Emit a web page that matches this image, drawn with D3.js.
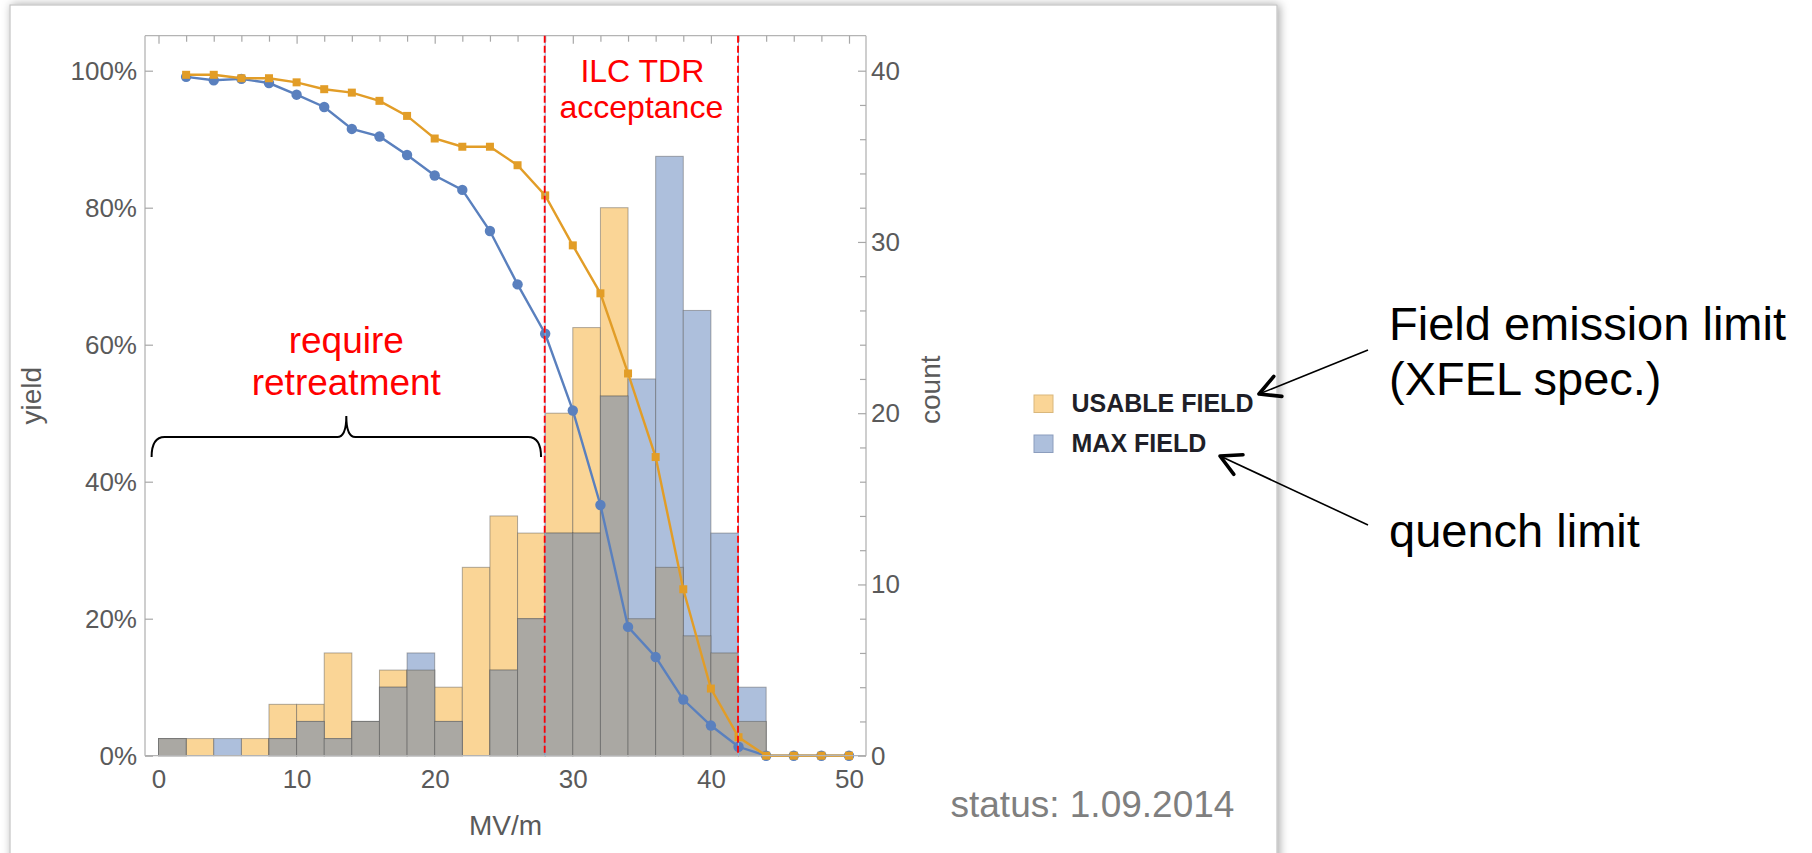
<!DOCTYPE html>
<html>
<head>
<meta charset="utf-8">
<script src="https://cdn.jsdelivr.net/npm/d3@7"></script>
<style>
  html, body { margin: 0; padding: 0; background: #fff; overflow: hidden; }
  text { font-family: "Liberation Sans", Arial, Helvetica, sans-serif; }
</style>
</head>
<body>
<svg id="chart" width="1812" height="853"></svg>
<script>
// Histogram bins (MV/m, 2 MV/m wide) and cavity counts per bin
const binStarts    = [0, 2, 4, 6, 8, 10, 12, 14, 16, 18, 20, 22, 24, 26, 28, 30, 32, 34, 36, 38, 40, 42];
const binWidth     = 2;
const usableCounts = [1, 1, 0, 1, 3, 3, 6, 2, 5, 5, 4, 11, 14, 13, 20, 25, 32, 8, 11, 7, 6, 2];
const maxCounts    = [1, 0, 1, 0, 1, 2, 1, 2, 4, 6, 2, 0, 5, 8, 13, 13, 21, 22, 35, 26, 13, 4];

// Yield curves (% of cavities reaching at least the given gradient)
const fieldPoints  = [2, 4, 6, 8, 10, 12, 14, 16, 18, 20, 22, 24, 26, 28, 30, 32, 34, 36, 38, 40, 42, 44, 46, 48, 50];
const usableYield  = [99.4, 99.4, 98.9, 98.9, 98.3, 97.3, 96.8, 95.6, 93.4, 90.1, 88.9, 88.9, 86.2, 81.8, 74.5, 67.5, 55.8, 43.6, 24.3, 9.8, 2.7, 0, 0, 0, 0];
const maxYield     = [99.1, 98.6, 98.8, 98.2, 96.5, 94.7, 91.5, 90.4, 87.7, 84.7, 82.6, 76.6, 68.8, 61.6, 50.4, 36.6, 18.8, 14.4, 8.2, 4.4, 1.3, 0, 0, 0, 0];

// Axis ticks
const fieldTicks      = [0, 10, 20, 30, 40, 50];
const fieldMinorTicks = [2, 4, 6, 8, 12, 14, 16, 18, 22, 24, 26, 28, 32, 34, 36, 38, 42, 44, 46, 48];
const yieldTicks      = [0, 20, 40, 60, 80, 100];
const countTicks      = [0, 10, 20, 30, 40];
const countMinorTicks = [2, 4, 6, 8, 12, 14, 16, 18, 22, 24, 26, 28, 32, 34, 36, 38];

// ILC TDR acceptance window
const acceptanceBounds = [28, 42];

const legendItems = [
  { label: "USABLE FIELD", key: "usable" },
  { label: "MAX FIELD",    key: "max" }
];

const colors = {
  usableBar: "#FAD596",
  maxBar: "#ADBFDC",
  overlapBar: "#AAA8A3",
  barEdge: "rgba(80,80,80,0.45)",
  usableLine: "#E29D27",
  maxLine: "#5A80BE",
  frame: "#b4b4b4",
  tickText: "#5a5a5a",
  red: "#ff0000"
};

const svg = d3.select("#chart");

// ---- page panel with soft shadow ----
const defs = svg.append("defs");
const shadow = defs.append("filter").attr("id", "panelShadow")
  .attr("x", "-3%").attr("y", "-3%").attr("width", "106%").attr("height", "106%");
shadow.append("feDropShadow").attr("dx", 2).attr("dy", 0)
  .attr("stdDeviation", 5).attr("flood-color", "#000").attr("flood-opacity", 0.35);

svg.append("rect").attr("width", 1812).attr("height", 853).attr("fill", "#fff");
svg.append("rect")
  .attr("x", 10).attr("y", 5).attr("width", 1267).attr("height", 900)
  .attr("fill", "#fff").attr("stroke", "#c4c4c4").attr("stroke-width", 1.2)
  .attr("filter", "url(#panelShadow)");

// ---- plot geometry ----
const frame = { left: 145, right: 866, top: 35.7, bottom: 755.7 };
const x = d3.scaleLinear().domain([0, 50]).range([158.5, 849]);
const yYield = d3.scaleLinear().domain([0, 100]).range([755.7, 70.7]);
const yCount = d3.scaleLinear().domain([0, 40]).range([755.7, 70.7]);

const plot = svg.append("g");

// ---- histogram bars ----
const bins = binStarts.map((s, i) => ({
  start: s, end: s + binWidth,
  usable: usableCounts[i], max: maxCounts[i],
  both: Math.min(usableCounts[i], maxCounts[i])
}));

function drawBars(key, fill) {
  plot.append("g").selectAll("rect")
    .data(bins.filter(d => d[key] > 0))
    .join("rect")
    .attr("x", d => x(d.start))
    .attr("width", d => x(d.end) - x(d.start))
    .attr("y", d => yCount(d[key]))
    .attr("height", d => yCount(0) - yCount(d[key]))
    .attr("fill", fill)
    .attr("stroke", colors.barEdge)
    .attr("stroke-width", 1);
}
drawBars("usable", colors.usableBar);
drawBars("max", colors.maxBar);
drawBars("both", colors.overlapBar);

// ---- frame ----
const frameG = svg.append("g").attr("fill", "none").attr("stroke", colors.frame).attr("stroke-width", 1.3);
frameG.append("line").attr("x1", frame.left).attr("x2", frame.right).attr("y1", frame.top).attr("y2", frame.top);
frameG.append("line").attr("x1", frame.left).attr("x2", frame.right).attr("y1", frame.bottom).attr("y2", frame.bottom);
frameG.append("line").attr("x1", frame.left).attr("x2", frame.left).attr("y1", frame.top).attr("y2", frame.bottom);
frameG.append("line").attr("x1", frame.right).attr("x2", frame.right).attr("y1", frame.top).attr("y2", frame.bottom);

function styleAxis(g) {
  g.select(".domain").remove();
  g.selectAll(".tick line").attr("stroke", "#a8a8a8").attr("stroke-width", 1.2);
  g.selectAll(".tick text")
    .attr("fill", colors.tickText)
    .style("font-size", "26px")
    .style("font-family", "\"Liberation Sans\", Arial, sans-serif");
}

// top frame ticks (inward)
svg.append("g").attr("transform", `translate(0,${frame.top})`)
  .call(d3.axisTop(x).tickValues(fieldTicks).tickSize(-8).tickFormat(""))
  .call(styleAxis);
svg.append("g").attr("transform", `translate(0,${frame.top})`)
  .call(d3.axisTop(x).tickValues(fieldMinorTicks).tickSize(-6).tickFormat(""))
  .call(styleAxis);

// bottom axis labels
svg.append("g").attr("transform", `translate(0,${frame.bottom})`)
  .call(d3.axisBottom(x).tickValues(fieldTicks).tickSize(0).tickPadding(14).tickFormat(d3.format("d")))
  .call(styleAxis);

// left yield axis
svg.append("g").attr("transform", `translate(${frame.left},0)`)
  .call(d3.axisLeft(yYield).tickValues(yieldTicks).tickSize(-8).tickPadding(8).tickFormat(d => d + "%"))
  .call(styleAxis);

// right count axis
svg.append("g").attr("transform", `translate(${frame.right},0)`)
  .call(d3.axisRight(yCount).tickValues(countMinorTicks).tickSize(-6).tickFormat(""))
  .call(styleAxis);
svg.append("g").attr("transform", `translate(${frame.right},0)`)
  .call(d3.axisRight(yCount).tickValues(countTicks).tickSize(-8).tickPadding(5).tickFormat(d3.format("d")))
  .call(styleAxis);

// axis titles
svg.append("text").text("MV/m")
  .attr("x", (frame.left + frame.right) / 2).attr("y", 835)
  .attr("text-anchor", "middle").attr("fill", colors.tickText).style("font-size", "28px");
svg.append("text").text("yield")
  .attr("transform", `translate(41,${(frame.top + frame.bottom) / 2}) rotate(-90)`)
  .attr("text-anchor", "middle").attr("fill", colors.tickText).style("font-size", "28px");
svg.append("text").text("count")
  .attr("transform", `translate(940,${(frame.top + frame.bottom) / 2 - 6}) rotate(-90)`)
  .attr("text-anchor", "middle").attr("fill", colors.tickText).style("font-size", "28px");

// ---- yield curves ----
const maxData = fieldPoints.map((f, i) => ({ f, v: maxYield[i] }));
const usableData = fieldPoints.map((f, i) => ({ f, v: usableYield[i] }));
const line = d3.line().x(d => x(d.f)).y(d => yYield(d.v));

plot.append("path").datum(maxData).attr("d", line)
  .attr("fill", "none").attr("stroke", colors.maxLine).attr("stroke-width", 2.4);
plot.append("g").selectAll("circle").data(maxData).join("circle")
  .attr("cx", d => x(d.f)).attr("cy", d => yYield(d.v)).attr("r", 5.2)
  .attr("fill", colors.maxLine);

plot.append("path").datum(usableData).attr("d", line)
  .attr("fill", "none").attr("stroke", colors.usableLine).attr("stroke-width", 2.4);
plot.append("g").selectAll("rect").data(usableData).join("rect")
  .attr("x", d => x(d.f) - 4).attr("y", d => yYield(d.v) - 4)
  .attr("width", 8).attr("height", 8)
  .attr("fill", colors.usableLine);

// ---- acceptance window markers ----
const bounds = svg.append("g");
acceptanceBounds.forEach(b => {
  bounds.append("line")
    .attr("x1", x(b)).attr("x2", x(b)).attr("y1", frame.top).attr("y2", frame.bottom)
    .attr("stroke", "#8db3e2").attr("stroke-width", 1);
  bounds.append("line")
    .attr("x1", x(b) - 0.5).attr("x2", x(b) - 0.5).attr("y1", frame.top).attr("y2", frame.bottom)
    .attr("stroke", colors.red).attr("stroke-width", 1.8).attr("stroke-dasharray", "7,3");
});

// ---- annotations ----
const mid = (acceptanceBounds[0] + acceptanceBounds[1]) / 2;
svg.append("text").text("ILC TDR")
  .attr("x", x(mid) + 0.5).attr("y", 81.7).attr("text-anchor", "middle")
  .attr("fill", colors.red).style("font-size", "32px");
svg.append("text").text("acceptance")
  .attr("x", x(mid) - 0.5).attr("y", 118.3).attr("text-anchor", "middle")
  .attr("fill", colors.red).style("font-size", "32px");

const braceL = x(-0.5), braceR = x(27.7), braceM = (braceL + braceR) / 2;
svg.append("text").text("require")
  .attr("x", braceM).attr("y", 353).attr("text-anchor", "middle")
  .attr("fill", colors.red).style("font-size", "37px");
svg.append("text").text("retreatment")
  .attr("x", braceM).attr("y", 395).attr("text-anchor", "middle")
  .attr("fill", colors.red).style("font-size", "37px");

// curly brace spanning the retreatment region
const yEnd = 457, yH = 437, yTip = 416;
const bracePath = [
  `M${braceL},${yEnd}`,
  `Q${braceL},${yH} ${braceL + 13},${yH}`,
  `L${braceM - 9},${yH}`,
  `Q${braceM},${yH} ${braceM},${yTip}`,
  `Q${braceM},${yH} ${braceM + 9},${yH}`,
  `L${braceR - 13},${yH}`,
  `Q${braceR},${yH} ${braceR},${yEnd}`
].join(" ");
svg.append("path").attr("d", bracePath)
  .attr("fill", "none").attr("stroke", "#000").attr("stroke-width", 2);

// ---- legend ----
const legend = svg.append("g");
legendItems.forEach((item, i) => {
  const yTop = 395 + i * 40;
  legend.append("rect")
    .attr("x", 1034).attr("y", yTop).attr("width", 19).attr("height", 17.5)
    .attr("fill", item.key === "usable" ? colors.usableBar : colors.maxBar)
    .attr("stroke", item.key === "usable" ? "#d9b77c" : "#8c9dbd").attr("stroke-width", 1);
  legend.append("text").text(item.label)
    .attr("x", 1071.5).attr("y", yTop + 16.7)
    .attr("fill", "#1f1f28").style("font-size", "25px").style("font-weight", "bold");
});

// ---- callouts ----
function arrow(from, tip) {
  const g = svg.append("g").attr("stroke", "#000").attr("fill", "none");
  g.append("line").attr("x1", from[0]).attr("y1", from[1]).attr("x2", tip[0]).attr("y2", tip[1])
    .attr("stroke-width", 1.6);
  const ang = Math.atan2(from[1] - tip[1], from[0] - tip[0]);
  const L = 23, a = 28 * Math.PI / 180;
  const w1 = [tip[0] + L * Math.cos(ang - a), tip[1] + L * Math.sin(ang - a)];
  const w2 = [tip[0] + L * Math.cos(ang + a), tip[1] + L * Math.sin(ang + a)];
  g.append("path").attr("d", `M${w1[0]},${w1[1]} L${tip[0]},${tip[1]} L${w2[0]},${w2[1]}`)
    .attr("stroke-width", 3.6).attr("stroke-linejoin", "round").attr("stroke-linecap", "round");
}
arrow([1368, 350], [1259, 394]);
arrow([1368, 525], [1220, 456]);

const callout = svg.append("g").attr("fill", "#000").style("font-size", "47px");
callout.append("text").text("Field emission limit").attr("x", 1389).attr("y", 340);
callout.append("text").text("(XFEL spec.)").attr("x", 1389).attr("y", 395);
callout.append("text").text("quench limit").attr("x", 1389).attr("y", 546.7);

// ---- status note ----
svg.append("text").text("status: 1.09.2014")
  .attr("x", 950.5).attr("y", 816.7)
  .attr("fill", "#7f7f7f").style("font-size", "37px");
</script>
</body>
</html>
